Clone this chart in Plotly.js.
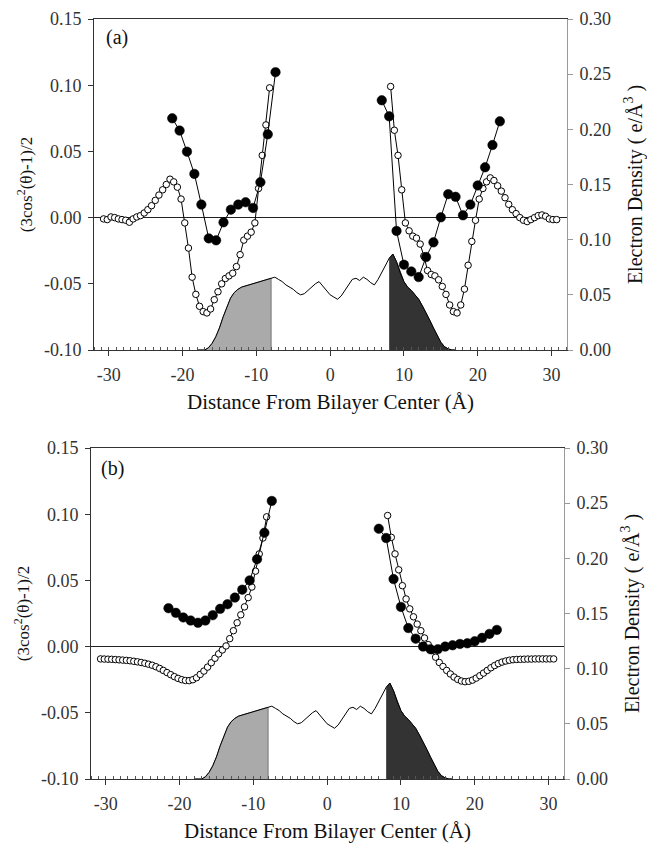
<!DOCTYPE html>
<html>
<head>
<meta charset="utf-8">
<script src="https://cdn.plot.ly/plotly-3.0.1.min.js"></script>
<style>html,body{margin:0;padding:0;background:#fff;}#chart{width:647px;height:846px;}</style>
</head>
<body>
<div id="chart"></div>
<script>
// ---------- data ----------
const openXLeft = [-30.7,-30.2,-29.7,-29.2,-28.7,-28.2,-27.7,-27.2,-26.7,-26.2,-25.7,-25.2,-24.7,-24.2,-23.7,-23.2,-22.7,-22.2,-21.7,-21.2,-20.7,-20.2,-19.7,-19.2,-18.7,-18.2,-17.7,-17.2,-16.7,-16.2,-15.7,-15.2,-14.7,-14.2,-13.7,-13.2,-12.7,-12.2,-11.7,-11.2,-10.7,-10.2,-9.7,-9.2,-8.7,-8.2];
const openXRight = [8.2,8.7,9.2,9.7,10.2,10.7,11.2,11.7,12.2,12.7,13.2,13.7,14.2,14.7,15.2,15.7,16.2,16.7,17.2,17.7,18.2,18.7,19.2,19.7,20.2,20.7,21.2,21.7,22.2,22.7,23.2,23.7,24.2,24.7,25.2,25.7,26.2,26.7,27.2,27.7,28.2,28.7,29.2,29.7,30.2,30.7];

// panel (a) open circles
const aOpenLeft = [-0.001,-0.0015,0.0005,0.000,-0.001,-0.0015,-0.002,-0.0035,-0.001,0.0005,0.0015,0.0035,0.006,0.009,0.013,0.017,0.021,0.025,0.029,0.027,0.023,0.014,-0.004,-0.023,-0.045,-0.058,-0.067,-0.071,-0.072,-0.069,-0.062,-0.056,-0.050,-0.046,-0.044,-0.042,-0.037,-0.028,-0.017,-0.014,-0.011,-0.004,0.022,0.047,0.070,0.098];
const aOpenRight = [0.099,0.066,0.047,0.021,-0.004,-0.010,-0.014,-0.0155,-0.020,-0.029,-0.040,-0.043,-0.044,-0.047,-0.052,-0.058,-0.066,-0.071,-0.072,-0.066,-0.054,-0.036,-0.018,-0.002,0.014,0.022,0.027,0.030,0.028,0.024,0.020,0.015,0.010,0.006,0.003,0.000,-0.002,-0.003,-0.0015,0.000,0.0015,0.002,0.001,-0.001,-0.0015,-0.0015];

// panel (a) filled circles
const aFillXLeft = [-21.4,-20.4,-19.4,-18.4,-17.45,-16.45,-15.45,-14.45,-13.45,-12.45,-11.45,-10.45,-9.45,-8.45,-7.4];
const aFillLeft = [0.075,0.0657,0.0498,0.033,0.0098,-0.0157,-0.0172,-0.0036,0.006,0.0098,0.0116,0.0073,0.0267,0.0629,0.1098];
const aFillXRight = [7,8,9,10,11,12,13,14,15,16,17,18,19,20,21,22,23];
const aFillRight = [0.0886,0.0765,-0.0101,-0.0356,-0.0407,-0.0449,-0.0298,-0.0187,0.0002,0.0177,0.0157,0.0017,0.0098,0.0243,0.038,0.0548,0.0727];

// panel (b) open circles
const bOpenLeft = [-0.0093,-0.0094,-0.0095,-0.0096,-0.0098,-0.0100,-0.0102,-0.0104,-0.0107,-0.0111,-0.0115,-0.0120,-0.0126,-0.0133,-0.0141,-0.0152,-0.0165,-0.0180,-0.0196,-0.0212,-0.0227,-0.0240,-0.0250,-0.0256,-0.0257,-0.0250,-0.0235,-0.0210,-0.0185,-0.0155,-0.0122,-0.0088,-0.0055,-0.0025,0.0005,0.006,0.012,0.018,0.024,0.030,0.037,0.045,0.057,0.070,0.082,0.098];
const bOpenRight = [0.099,0.0825,0.070,0.058,0.046,0.036,0.0285,0.0225,0.017,0.012,0.0065,0.0015,-0.003,-0.008,-0.012,-0.015,-0.018,-0.0207,-0.023,-0.0248,-0.026,-0.0265,-0.0262,-0.0253,-0.0238,-0.022,-0.020,-0.018,-0.016,-0.0143,-0.0128,-0.0117,-0.0109,-0.0103,-0.0099,-0.0097,-0.0096,-0.0095,-0.0094,-0.0094,-0.0093,-0.0093,-0.0093,-0.0093,-0.0093,-0.0093];

// panel (b) filled circles
const bFillXLeft = [-21.5,-20.5,-19.5,-18.5,-17.5,-16.5,-15.5,-14.5,-13.5,-12.5,-11.5,-10.5,-9.5,-8.5,-7.5];
const bFillLeft = [0.029,0.0255,0.022,0.0197,0.018,0.0197,0.0237,0.0285,0.032,0.037,0.043,0.050,0.066,0.086,0.110];
const bFillXRight = [7,8,9,10,11,12,13,14,15,16,17,18,19,20,21,22,23];
const bFillRight = [0.089,0.082,0.051,0.030,0.014,0.006,0.000,-0.002,-0.002,0.000,0.001,0.002,0.0025,0.004,0.0066,0.0096,0.0126];

// electron density (right axis)
const densX = [-18,-17.5,-17,-16.5,-16,-15.5,-15,-14.5,-14,-13.5,-13,-12.5,-12,-11.5,-11,-10.5,-10,-9.5,-9,-8.5,-8,-7.5,-7,-6.5,-6,-5.5,-5,-4.5,-4,-3.5,-3,-2.5,-2,-1.5,-1,-0.5,0,0.5,1,1.5,2,2.5,3,3.5,4,4.5,5,5.5,6,6.5,7,7.5,8,8.5,9,9.5,10,10.5,11,11.5,12,12.5,13,13.5,14,14.5,15,15.5,16,16.5,17];
const densY = [0,0,0,0.002,0.006,0.012,0.020,0.030,0.039,0.047,0.052,0.055,0.057,0.058,0.059,0.060,0.061,0.062,0.063,0.064,0.065,0.066,0.064,0.062,0.059,0.057,0.055,0.052,0.050,0.051,0.054,0.057,0.060,0.062,0.058,0.053,0.050,0.048,0.046,0.049,0.054,0.060,0.064,0.065,0.063,0.066,0.064,0.061,0.059,0.064,0.070,0.077,0.083,0.087,0.080,0.070,0.062,0.057,0.054,0.050,0.046,0.040,0.034,0.027,0.020,0.013,0.007,0.003,0.001,0,0];
const headgroupLeftEdge = -8;
const headgroupRightEdge = 8;

// ticks
const xTickVals = [-30,-20,-10,0,10,20,30];
const xTickText = ["-30","-20","-10","0","10","20","30"];
const yLeftVals = [-0.10,-0.05,0.00,0.05,0.10,0.15];
const yLeftText = ["-0.10","-0.05","0.00","0.05","0.10","0.15"];
const yRightVals = [0.00,0.05,0.10,0.15,0.20,0.25,0.30];
const yRightText = ["0.00","0.05","0.10","0.15","0.20","0.25","0.30"];

const xTitle = "Distance From Bilayer Center (Å)";
const yLeftTitle = "(3cos<sup>2</sup>(θ)-1)/2";
const yRightTitle = "Electron Density ( e/Å<sup>3</sup> )";
const panelLabels = ["(a)", "(b)"];

// ---------- build ----------
function densityTraces(xa, ya) {
  const lx = [], ly = [], rx = [], ry = [];
  densX.forEach((x, i) => {
    if (x <= headgroupLeftEdge) { lx.push(x); ly.push(densY[i]); }
    if (x >= headgroupRightEdge) { rx.push(x); ry.push(densY[i]); }
  });
  lx.push(lx[lx.length - 1]); ly.push(0);
  return [
    {x: lx, y: ly, xaxis: xa, yaxis: ya, mode: 'lines', fill: 'tozeroy', fillcolor: '#aaaaaa', line: {color: '#777', width: 1}, hoverinfo: 'skip'},
    {x: rx, y: ry, xaxis: xa, yaxis: ya, mode: 'lines', fill: 'tozeroy', fillcolor: '#333333', line: {color: '#333', width: 1}, hoverinfo: 'skip'},
    {x: densX, y: densY, xaxis: xa, yaxis: ya, mode: 'lines', line: {color: '#000', width: 1}, hoverinfo: 'skip'}
  ];
}
function openTrace(x, y, xa, ya) {
  return {x, y, xaxis: xa, yaxis: ya, mode: 'lines+markers', line: {color: '#000', width: 1},
    marker: {symbol: 'circle', size: 6.5, color: '#fff', line: {color: '#000', width: 1}}};
}
function fillTrace(x, y, xa, ya) {
  return {x, y, xaxis: xa, yaxis: ya, mode: 'lines+markers', line: {color: '#000', width: 1},
    marker: {symbol: 'circle', size: 9.5, color: '#000', line: {color: '#000', width: 0.5}}};
}

const data = [
  ...densityTraces('x', 'y2'),
  openTrace(openXLeft, aOpenLeft, 'x', 'y'),
  openTrace(openXRight, aOpenRight, 'x', 'y'),
  fillTrace(aFillXLeft, aFillLeft, 'x', 'y'),
  fillTrace(aFillXRight, aFillRight, 'x', 'y'),
  ...densityTraces('x2', 'y4'),
  openTrace(openXLeft, bOpenLeft, 'x2', 'y3'),
  openTrace(openXRight, bOpenRight, 'x2', 'y3'),
  fillTrace(bFillXLeft, bFillLeft, 'x2', 'y3'),
  fillTrace(bFillXRight, bFillRight, 'x2', 'y3')
];

const W = 647, H = 846;
const serif = '"Liberation Serif", "Times New Roman", serif';
const tickFont = {family: serif, size: 18, color: '#333'};

function xAxis(dom, anchor) {
  return {domain: dom, anchor, range: [-32, 32.1], tickmode: 'array', tickvals: xTickVals, ticktext: xTickText,
    ticks: 'outside', ticklen: 5, tickcolor: '#333', tickfont: tickFont, ticklabelstandoff: 3,
    showline: true, linecolor: '#333', linewidth: 1,
    mirror: true, showgrid: false, zeroline: false,
    minor: {tickmode: 'linear', tick0: 0, dtick: 1, ticks: 'inside', ticklen: 3, tickcolor: '#555', showgrid: false},
    title: {text: xTitle, font: {family: serif, size: 21, color: '#111'}, standoff: 10}};
}
function yLeft(dom, anchor) {
  return {domain: dom, anchor, range: [-0.10, 0.15], tickmode: 'array', tickvals: yLeftVals, ticktext: yLeftText,
    ticks: 'outside', ticklen: 5, tickcolor: '#333', tickfont: tickFont, ticklabelstandoff: 3,
    showline: true, linecolor: '#333', linewidth: 1,
    showgrid: false, zeroline: true, zerolinecolor: '#222', zerolinewidth: 1,
    title: {text: yLeftTitle, font: {family: serif, size: 17, color: '#111'}, standoff: 6}};
}
function yRight(overlay, anchor) {
  return {overlaying: overlay, anchor, side: 'right', range: [0, 0.30], tickmode: 'array', tickvals: yRightVals, ticktext: yRightText,
    ticks: 'outside', ticklen: 5, tickcolor: '#999', tickfont: tickFont, ticklabelstandoff: 3,
    showline: true, linecolor: '#999', linewidth: 1,
    showgrid: false, zeroline: false,
    title: {text: yRightTitle, font: {family: serif, size: 20, color: '#111'}, standoff: 17}};
}

const domXa = [94 / W, 567 / W], domYa = [1 - 350 / H, 1 - 19 / H];
const domXb = [91 / W, 564 / W], domYb = [1 - 779 / H, 1 - 448 / H];

const layout = {
  width: W, height: H, margin: {l: 0, r: 0, t: 0, b: 0},
  paper_bgcolor: '#fff', plot_bgcolor: 'rgba(0,0,0,0)', showlegend: false,
  font: {family: serif, color: '#222'},
  xaxis: xAxis(domXa, 'y'),
  yaxis: yLeft(domYa, 'x'),
  yaxis2: yRight('y', 'x'),
  xaxis2: xAxis(domXb, 'y3'),
  yaxis3: yLeft(domYb, 'x2'),
  yaxis4: yRight('y3', 'x2'),
  annotations: [
    {text: panelLabels[0], xref: 'paper', yref: 'paper', x: 117 / W, y: 1 - 38 / H, showarrow: false, xanchor: 'center', yanchor: 'middle', font: {family: serif, size: 20, color: '#111'}},
    {text: panelLabels[1], xref: 'paper', yref: 'paper', x: 113 / W, y: 1 - 468 / H, showarrow: false, xanchor: 'center', yanchor: 'middle', font: {family: serif, size: 20, color: '#111'}}
  ]
};

Plotly.newPlot('chart', data, layout, {staticPlot: true, displayModeBar: false});
</script>
</body>
</html>
